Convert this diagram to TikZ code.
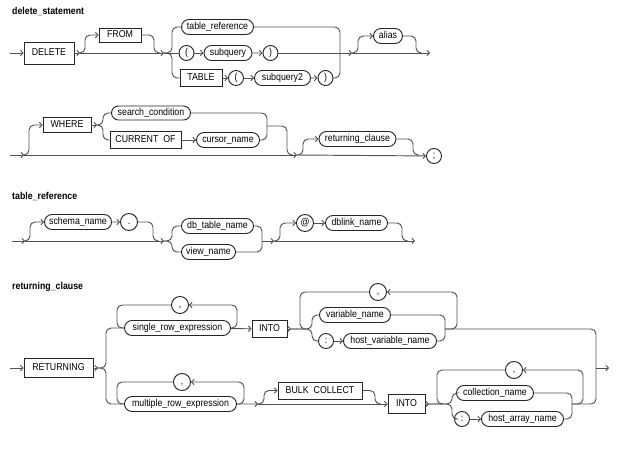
\documentclass[tikz,border=0pt]{standalone}
\usepackage{fontspec}
\setmainfont[FakeStretch=0.88]{Liberation Sans}
\usetikzlibrary{arrows.meta,shapes.misc}
\begin{document}
\begin{tikzpicture}[x=1pt,y=-1pt,
  wire/.style={draw=black!68, line width=0.95pt},
  rc/.style={rounded corners=5pt},
  ar/.style={-{Straight Barb[length=2.5pt,width=5.5pt]}},
  txt/.style={font=\fontsize{10}{11}\selectfont, text height=7pt, text depth=2pt},
  kw/.style={txt, draw=black!85, line width=0.95pt, rectangle, minimum height=17pt, inner sep=1.5pt},
  nt/.style={txt, draw=black!85, line width=0.95pt, rounded rectangle, minimum height=15pt, inner sep=1.5pt},
  circ/.style={txt, draw=black!85, line width=0.95pt, circle, minimum size=15pt, inner sep=0pt},
  title/.style={anchor=west, inner sep=0pt, font=\bfseries\fontsize{10}{11}\selectfont}]
\useasboundingbox (0,0) rectangle (625,456);

% ---------------- delete_statement ----------------
\node[title] (t1) at (12,11) {delete\_statement};
\node[kw, minimum width=50pt, minimum height=22pt] (delete) at (49,53) {DELETE};
\node[kw, minimum width=42pt, minimum height=14pt] (from) at (120,35) {FROM};
\node[nt, minimum width=75pt] (tref) at (217.5,27) {table\_reference};
\node[circ] (lp1) at (186.5,53) {(};
\node[nt, minimum width=51pt] (subq) at (228,53) {subquery};
\node[circ] (rp1) at (270.5,53) {)};
\node[kw, minimum width=42pt] (table) at (201,78) {TABLE};
\node[circ] (lp2) at (236,78) {(};
\node[nt, minimum width=59pt] (subq2) at (282.5,78) {subquery2};
\node[circ] (rp2) at (325.5,78) {)};
\node[nt, minimum width=32pt] (alias) at (388,36) {alias};

\coordinate (s1) at (10,53);
\coordinate (j1) at (80,53);
\coordinate (j2) at (164,53);
\coordinate (j3) at (352,53);
\coordinate (e1) at (430,53);

\draw[wire,ar] (s1) -- (delete);
\draw[wire,ar] (delete) -- (j1);
\draw[wire,ar] (j1) -- (j2);
\draw[wire,rc,ar] (j1) -- ++(5,0) |- (from);
\draw[wire,rc] (from) -| (154,53) -- (160,53);
\draw[wire,rc] (j2) -- (172,53) |- (tref);
\draw[wire,rc] (j2) -- (172,53) |- (table);
\draw[wire] (j2) -- (lp1);
\draw[wire,ar] (lp1) -- (subq);
\draw[wire,ar] (subq) -- (rp1);
\draw[wire,ar] (rp1) -- (j3);
\draw[wire,ar] (table) -- (lp2);
\draw[wire,ar] (lp2) -- (subq2);
\draw[wire,ar] (subq2) -- (rp2);
\draw[wire,rc] (tref) -| (340,53);
\draw[wire,rc] (rp2) -| (340,53);
\draw[wire,ar] (j3) -- (e1);
\draw[wire,rc,ar] (j3) -- ++(6,0) |- (alias);
\draw[wire,rc] (alias) -| (416,53) -- (422,53);

% row 2
\node[kw, minimum width=48pt, minimum height=15pt] (where) at (67,125) {WHERE};
\node[nt, minimum width=82pt, minimum height=14pt] (sc) at (151,113) {search\_condition};
\node[kw, minimum width=71pt] (co) at (145.5,140) {CURRENT\hspace{2.5pt} OF};
\node[nt, minimum width=66pt] (cn) at (228,140) {cursor\_name};
\node[nt, minimum width=80pt] (retc) at (357.5,139) {returning\_clause};
\node[circ] (semi) at (434,156) {;};

\coordinate (s2) at (10,155);
\coordinate (j4) at (24,155);
\coordinate (j5) at (97,125);
\coordinate (j6) at (267,126);
\coordinate (j7) at (297,155);

\draw[wire,ar] (s2) -- (j4);
\draw[wire,ar] (j4) -- (j7);
\draw[wire,rc,ar] (j4) -- ++(5,0) |- (where);
\draw[wire,ar] (where) -- (j5);
\draw[wire,rc] (j5) -- (103,125) |- (sc);
\draw[wire,rc] (j5) -- (103,125) |- (co);
\draw[wire,ar] (co) -- (cn);
\draw[wire,rc] (sc) -| (j6);
\draw[wire,rc] (cn) -| (j6);
\draw[wire,rc] (j6) -- (287,126) -- (287,155) -- (293,155);
\draw[wire,rc,ar] (j7) -- ++(6,0) |- (retc);
\draw[wire,ar] (j7) -- (semi);
\draw[wire,rc] (retc) -| (413,155) -- (419,155);

% ---------------- table_reference ----------------
\node[title] (t2) at (12,196) {table\_reference};
\node[nt, minimum width=70pt] (schema) at (78,222) {schema\_name};
\node[circ, minimum size=17pt] (dot) at (129,222) {.};
\node[nt, minimum width=75pt] (dbt) at (217.5,226) {db\_table\_name};
\node[nt, minimum width=57pt] (vn) at (208.5,252) {view\_name};
\node[circ, minimum size=17pt] (at) at (305,223) {@};
\node[nt, minimum width=65pt] (dbl) at (356.5,223) {dblink\_name};

\coordinate (s3) at (12,241);
\coordinate (j8) at (25,241);
\coordinate (j9) at (164,241);
\coordinate (j10) at (262,241);
\coordinate (j11) at (274,241);
\coordinate (e3) at (415,241);

\draw[wire,ar] (s3) -- (j8);
\draw[wire,ar] (j8) -- (j9);
\draw[wire,rc,ar] (j8) -- ++(5,0) |- (schema);
\draw[wire,ar] (schema) -- (dot);
\draw[wire,rc] (dot) -| (153,241) -- (159,241);
\draw[wire,rc] (j9) -- (172,241) |- (dbt);
\draw[wire,rc] (j9) -- (172,241) |- (vn);
\draw[wire,rc] (dbt) -| (j10);
\draw[wire,rc] (vn) -| (j10);
\draw[wire,ar] (j10) -- (j11);
\draw[wire,ar] (j11) -- (e3);
\draw[wire,rc,ar] (j11) -- ++(6,0) |- (at);
\draw[wire,ar] (at) -- (dbl);
\draw[wire,rc] (dbl) -| (402,241) -- (408,241);

% ---------------- returning_clause ----------------
\node[title] (t3) at (12,287) {returning\_clause};
\node[kw, minimum width=69pt, minimum height=19pt] (ret) at (58.5,368) {RETURNING};
\node[nt, minimum width=109pt] (sre) at (177.5,328) {single\_row\_expression};
\node[circ, minimum size=17pt] (comma1) at (180,305) {,};
\node[kw, minimum width=35pt] (into1) at (269.5,329) {INTO};
\node[circ, minimum size=17pt] (comma2) at (378,292) {,};
\node[nt, minimum width=74pt] (var) at (355,315) {variable\_name};
\node[circ] (colon1) at (326,341) {:};
\node[nt, minimum width=96pt] (hvn) at (390,341) {host\_variable\_name};

\node[nt, minimum width=115pt] (mre) at (180.5,404) {multiple\_row\_expression};
\node[circ, minimum size=17pt] (comma3) at (182,382) {,};
\node[kw, minimum width=84pt] (bulk) at (320,390.5) {BULK\hspace{2.5pt} COLLECT};
\node[kw, minimum width=37pt, minimum height=19pt] (into2) at (406.5,404) {INTO};
\node[circ, minimum size=17pt] (comma4) at (514,370) {,};
\node[nt, minimum width=80pt] (coll) at (495,393) {collection\_name};
\node[circ] (colon2) at (462,419) {:};
\node[nt, minimum width=85pt] (han) at (522.5,419) {host\_array\_name};

\coordinate (s4) at (10,368);
\coordinate (j12) at (98,368);
\coordinate (j13) at (291,329);
\coordinate (j14) at (445,329);
\coordinate (j15) at (258,404);
\coordinate (j16) at (429,404);
\coordinate (j17) at (572,404);
\coordinate (j18) at (596,368);
\coordinate (e4) at (609,368);

\draw[wire,ar] (s4) -- (ret);
\draw[wire,ar] (ret) -- (j12);
\draw[wire,rc] (j12) -- (106,368) |- (sre);
\draw[wire,rc] (j12) -- (106,368) |- (mre);

\draw[wire,rc,ar] (sre.east) -- ++(6,0) |- (comma1);
\draw[wire,rc] (comma1) -| (117,328) -- (sre.west);
\draw[wire,ar] (sre) -- (into1);
\draw[wire,ar] (into1) -- (j13);
\draw[wire,rc] (j13) -- (312,329) |- (var);
\draw[wire,rc] (j13) -- (312,329) |- (colon1);
\draw[wire,rc] (comma2) -| (300,329) -- (306,329);
\draw[wire,ar] (colon1) -- (hvn);
\draw[wire,rc] (var) -| (j14);
\draw[wire,rc] (hvn) -| (j14);
\draw[wire,rc,ar] (j14) -- (457,329) |- (comma2);
\draw[wire,rc] (j14) -- (596,329) -- (j18);

\draw[wire,rc,ar] (mre.east) -- ++(7,0) |- (comma3);
\draw[wire,rc] (comma3) -| (117,404) -- (mre.west);
\draw[wire,ar] (mre) -- (j15);
\draw[wire,ar] (j15) -- (into2);
\draw[wire,rc,ar] (j15) -- ++(6,0) |- (bulk);
\draw[wire,rc] (bulk) -| (375,404) -- (381,404);
\draw[wire,ar] (into2) -- (j16);
\draw[wire,rc] (j16) -- (452,404) |- (coll);
\draw[wire,rc] (j16) -- (452,404) |- (colon2);
\draw[wire,rc] (comma4) -| (437,404) -- (443,404);
\draw[wire,ar] (colon2) -- (han);
\draw[wire,rc] (coll) -| (j17);
\draw[wire,rc] (han) -| (j17);
\draw[wire,rc,ar] (j17) -- (583,404) |- (comma4);
\draw[wire,rc] (j17) -- (596,404) -- (j18);
\draw[wire,ar] (j18) -- (e4);
\end{tikzpicture}
\end{document}
